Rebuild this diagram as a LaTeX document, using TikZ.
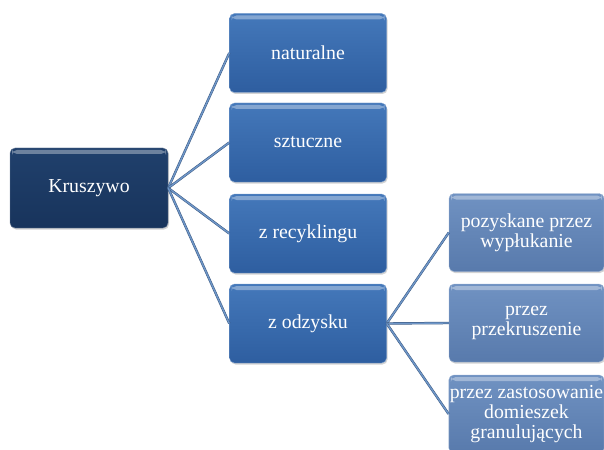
\documentclass[tikz,border=0pt]{standalone}
\usepackage{fontspec}
\setmainfont{Liberation Serif}
\usetikzlibrary{shadows}

\definecolor{roottop}{RGB}{32,64,108}
\definecolor{rootbot}{RGB}{24,52,92}
\definecolor{midtop}{RGB}{68,120,186}
\definecolor{midbot}{RGB}{46,94,160}
\definecolor{leaftop}{RGB}{112,146,194}
\definecolor{leafbot}{RGB}{88,122,172}
\definecolor{linkedge}{RGB}{58,88,128}
\definecolor{linkcore}{RGB}{110,150,200}

\begin{document}
\begin{tikzpicture}[x=1pt,y=-1pt,
  box/.style={rectangle,rounded corners=5pt,text=white,align=center,
    font=\fontsize{19.8}{20}\selectfont,inner sep=1pt,
    drop shadow={shadow xshift=1pt,shadow yshift=-1.5pt,opacity=0.35},
    path picture={\fill[white,opacity=0.35]
      ([xshift=2pt,yshift=-2pt]path picture bounding box.north west) rectangle
      ([xshift=-2pt,yshift=-6pt]path picture bounding box.north east);}},
  root node/.style={box,minimum width=158pt,minimum height=80pt,
    top color=roottop,bottom color=rootbot,draw=rootbot!60!white},
  mid node/.style={box,minimum width=157pt,minimum height=79pt,
    top color=midtop,bottom color=midbot,draw=midtop!70!white},
  leaf node/.style={box,minimum width=155pt,minimum height=78pt,
    top color=leaftop,bottom color=leafbot,draw=leaftop!70!white},
  link/.style={draw=linkedge,line width=0.5pt,double=linkcore,double distance=1.4pt}]

  \useasboundingbox (0,0) rectangle (604,449);

  \node[root node] (1) at (89,188) {Kruszywo};
  \node[mid node]  (2) at (308,53) {naturalne};
  \node[mid node]  (3) at (308,142.5) {sztuczne};
  \node[mid node]  (4) at (308,233.5) {z recyklingu};
  \node[mid node]  (5) at (308,323.5) {z odzysku};
  \node[leaf node] (6) at (526.5,232.5) {pozyskane przez\\wypłukanie};
  \node[leaf node] (7) at (526.5,323) {przez\\przekruszenie};
  \node[leaf node] (8) at (526.5,414) {przez zastosowanie\\domieszek\\granulujących};

  \path[every edge/.style={link}]
    (1.east) edge (2.west)
    (1.east) edge (3.west)
    (1.east) edge (4.west)
    (1.east) edge (5.west)
    %second level
    (5.east) edge (6.west)
    (5.east) edge (7.west)
    (5.east) edge (8.west);

\end{tikzpicture}
\end{document}
